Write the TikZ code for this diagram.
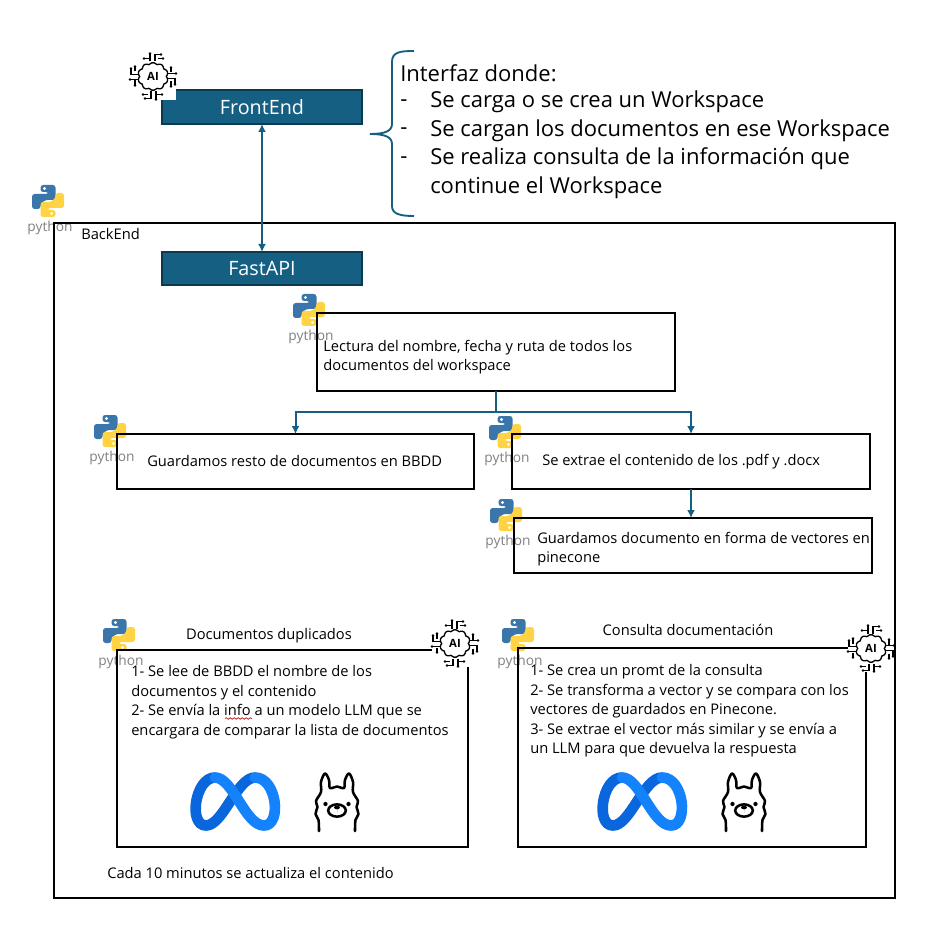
\documentclass[tikz,border=0pt]{standalone}
\usepackage{fontspec}
\setmainfont{Open Sans}
\usetikzlibrary{arrows.meta,decorations.pathmorphing}
\definecolor{teal1}{HTML}{156082}
\definecolor{teal2}{HTML}{0B3A50}
\definecolor{pyb}{HTML}{3A76AA}
\definecolor{pyy}{HTML}{FFD343}
\definecolor{metaA}{HTML}{0A66DC}
\definecolor{metaB}{HTML}{1482FA}
\tikzset{
 box/.style={draw=black,line width=1.5pt,fill=none,inner sep=0,outer sep=0},
 tealbox/.style={draw=teal2,line width=1.5pt,fill=teal1,text=white,inner sep=0,outer sep=0,font=\fontsize{14.8}{16}\selectfont},
 conn/.style={draw=teal1,line width=1.5pt,-{Latex[length=6pt,width=6pt]}},
 big/.style={anchor=west,align=left,inner sep=0,font=\fontsize{16.5}{21.4}\selectfont},
 small/.style={anchor=west,align=left,inner sep=0,font=\fontsize{11}{14.6}\selectfont},
 pylabel/.style={text=black!50,inner sep=0,font=\fontsize{10.3}{12}\selectfont},
 pypart/.style={rounded corners=2pt},
 pics/pylogo/.style={code={
  \fill[pyb,pypart] (-7.5,-16)--(7.5,-16)--(7.5,-1)--(-3,-1)--(-7.5,3)--(-7.5,8)--(-16,8)--(-16,-7)--(0.5,-7)--(0.5,-9)--(-7.5,-9)--cycle;
  \fill[pyy,pypart] (7.5,16)--(-7.5,16)--(-7.5,1)--(3,1)--(7.5,-3)--(7.5,-8)--(16,-8)--(16,7)--(-0.5,7)--(-0.5,9)--(7.5,9)--cycle;
  \fill[white] (-3.5,-12.5) circle (1.2pt) (3.5,12.5) circle (1.2pt);
  \node[pylabel] at (2,27) {python};
 }},
 pics/aiicon/.style={code={
  \fill[white] (-23,-23.5) rectangle (23,23.5);
  \draw[line width=1pt,fill=white] plot[smooth cycle,samples=72,domain=0:355] (\x:{11.8+1.9*abs(sin(5*\x))+1.5*abs(cos(\x))});
  \node[inner sep=0,font=\fontsize{8.5}{8}\selectfont\bfseries] at (0,0) {AI};
  \foreach \r in {0,90,180,270}{
   \begin{scope}[rotate=\r,line width=.9pt]
    \draw (-9,-18)--(-4,-18) (-3,-15)--(-3,-23) (2,-15)--(2,-22)--(8,-22) (5,-18)--(10,-18);
    \fill (-9,-18) circle (1.1pt) (-3,-23) circle (1.1pt) (8,-22) circle (1.1pt) (10,-18) circle (1.1pt);
   \end{scope}}
 }},
 pics/metalogo/.style={code={
  \begin{scope}[line width=8pt,line cap=round]
   \draw[metaA] (20,-24) .. controls (2,-24) and (-12,24) .. (-29,24);
   \draw[metaA] (-29,24) .. controls (-47,24) and (-40,-24) .. (-20,-24);
   \draw[metaB] (29,24) .. controls (47,24) and (42,-24) .. (20,-24);
   \draw[metaB] (-20,-24) .. controls (-2,-24) and (10,24) .. (29,24);
  \end{scope}
 }},
 pics/llama/.style={code={
  \begin{scope}[line width=1.9pt,line cap=round,line join=round]
   \draw plot[smooth,tension=.6] coordinates {(-18,29)(-18.5,18)(-21.5,12)(-19.5,5)(-21,-1)(-16,-10)(-16,-20)(-12,-28.5)(-8,-22)(-7,-14)(0,-15.5)(7,-14)(8,-22)(12,-28.5)(16,-20)(16,-10)(21,-1)(19.5,5)(21.5,12)(18.5,18)(18,29)};
   \draw (0,8.5) ellipse (6.6pt and 4.6pt);
  \end{scope}
  \fill (0,5.5) ellipse (2.2pt and 1.4pt) (0,7)--(0,11);
  \fill (-11.5,2) circle (1.6pt) (11.5,2) circle (1.6pt);
 }}
}
\begin{document}
\begin{tikzpicture}[x=0.75pt,y=-0.75pt]
\useasboundingbox (0,0) rectangle (932,927);
% python logos sit under the box lines
\pic at (48,201) {pylogo};
\pic at (309,310) {pylogo};
\pic at (110,431) {pylogo};
\pic at (505,432) {pylogo};
\pic at (506,515) {pylogo};
\pic at (119,635) {pylogo};
\pic at (518,635) {pylogo};
% boxes
\node[box,minimum width=630.75pt,minimum height=506.25pt] (backend) at (474.5,560.5) {};
\node[tealbox,minimum width=150pt,minimum height=25.5pt] (front) at (262,107) {FrontEnd};
\node[tealbox,minimum width=150pt,minimum height=24.75pt] (fast) at (262,268.5) {FastAPI};
\node[box,minimum width=268.5pt,minimum height=58.5pt] (lect) at (496,352) {};
\node[box,minimum width=267.75pt,minimum height=41.25pt] (resto) at (295.5,461.5) {};
\node[box,minimum width=268.5pt,minimum height=41.25pt] (extr) at (691,461.5) {};
\node[box,minimum width=268.5pt,minimum height=41.25pt] (vect) at (693,545.5) {};
\node[box,minimum width=263.25pt,minimum height=147.75pt] (dup) at (292.5,748.5) {};
\node[box,minimum width=261pt,minimum height=149.25pt] (cons) at (692,747.5) {};
% connectors
\draw[conn,{Latex[length=6pt,width=6pt]}-{Latex[length=6pt,width=6pt]}] (fast.north) -- (front.south);
\coordinate (split) at (496,412);
\draw[conn,-] (lect.south) -- (split);
\draw[conn] (split) -| (resto.north);
\draw[conn] (split) -| (extr.north);
\draw[conn] (extr.south) -- (extr.south |- vect.north);
% brace
\draw[teal1,line width=1.4pt] (414,51) .. controls (400,51) and (392,52) .. (392,62) -- (392,124) .. controls (392,131) and (385,134) .. (370,134) .. controls (385,134) and (392,137) .. (392,144) -- (392,206) .. controls (392,214) and (400,216) .. (414,216);
% icons above the boxes
\pic at (153,76.5) {aiicon};
\pic at (455,643.5) {aiicon};
\pic at (871,648.5) {aiicon};
\pic at (235,801.5) {metalogo};
\pic at (642,801.5) {metalogo};
\pic at (337,802) {llama};
\pic at (744,802) {llama};
% texts
\node[big] (t1) at (400,73) {Interfaz donde:};
\node[big] (d1) at (400,103) {-};
\node[big] (d2) at (400,131.5) {-};
\node[big] (d3) at (400,160) {-};
\node[big] (t2) at (430,145) {Se carga o se crea un Workspace\\Se cargan los documentos en ese Workspace\\Se realiza consulta de la información que\\continue el Workspace};
\node[small] (tb) at (81,234) {BackEnd};
\node[small] (tl) at (323,357) {Lectura del nombre, fecha y ruta de todos los\\documentos del workspace};
\node[small] (tr) at (147,461) {Guardamos resto de documentos en BBDD};
\node[small] (te) at (542,462) {Se extrae el contenido de los .pdf y .docx};
\node[small] (tv) at (537,549) {Guardamos documento en forma de vectores en\\pinecone};
\node[small,anchor=center] (th1) at (269,636) {Documentos duplicados};
\node[small,anchor=center] (th2) at (688,630) {Consulta documentación};
\node[small] (td) at (131,702) {1- Se lee de BBDD el nombre de los\\documentos y el contenido\\2- Se envía la info a un modelo LLM que se\\encargara de comparar la lista de documentos};
\node[small] (tc) at (530,711) {1- Se crea un promt de la consulta\\2- Se transforma a vector y se compara con los\\vectores de guardados en Pinecone.\\3- Se extrae el vector más similar y se envía a\\un LLM para que devuelva la respuesta};
\node[small] (tf) at (107,873) {Cada 10 minutos se actualiza el contenido};
\draw[red!80!black,line width=.5pt,decorate,decoration={snake,amplitude=.6pt,segment length=3pt}] (225,718.5) -- (252,718.5);
\end{tikzpicture}
\end{document}
